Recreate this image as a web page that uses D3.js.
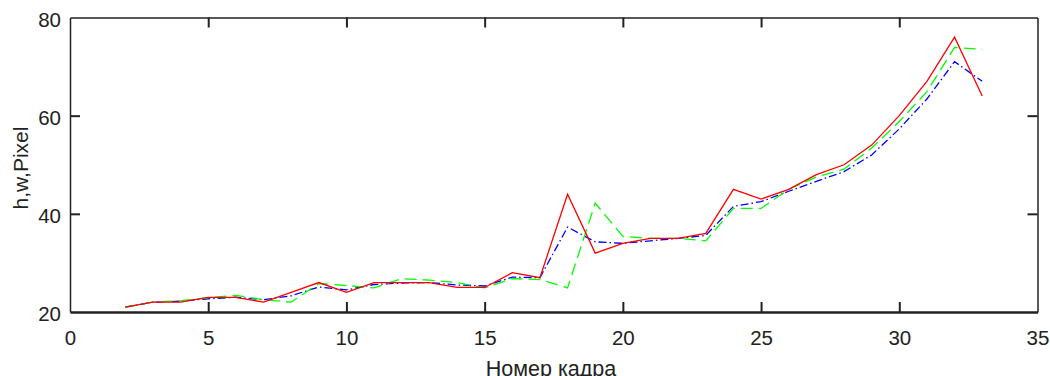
<!DOCTYPE html>
<html>
<head>
<meta charset="utf-8">
<script src="https://cdn.jsdelivr.net/npm/d3@7"></script>
<style>
  body { margin: 0; background: #fff; }
  svg { display: block; font-family: "Liberation Sans", Arial, sans-serif; }
</style>
</head>
<body>
<svg id="chart" width="1050" height="376"></svg>
<script>
// frame numbers and measured sizes
var frames = d3.range(2, 34);
var redVals = [21, 22, 22, 23, 23, 22, 24, 26, 24, 26, 26, 26, 25, 25, 28, 27,
    44, 32, 34, 35, 35, 36, 45, 43, 45, 48, 50, 54, 60, 67, 76, 64];
var greenVals = [21, 22, 22.3, 22.9, 23.4, 22.5, 22, 25.8, 25.4, 24.9, 26.8, 26.5, 26, 24.9, 26.8, 26.6,
    24.9, 42.2, 35.4, 35, 35, 34.5, 41.1, 41.1, 45, 47.5, 49.1, 53.4, 58.8, 64.9, 73.9, 73.5];
var blueVals = [21, 22, 22.2, 22.7, 23, 22.5, 23.3, 25.1, 24.5, 25.6, 25.9, 26, 25.5, 25.3, 27.1, 27,
    37.3, 34.3, 34, 34.5, 35, 35.6, 41.5, 42.5, 44.6, 46.6, 48.6, 52, 57.3, 63.4, 71, 67];
var xTicks = [0, 5, 10, 15, 20, 25, 30, 35];
var yTicks = [20, 40, 60, 80];

var margin = {top: 17.5, right: 12.5, bottom: 64, left: 70};
var width = 1050 - margin.left - margin.right;
var height = 376 - margin.top - margin.bottom;

var svg = d3.select("#chart");
var g = svg.append("g")
    .attr("transform", "translate(" + margin.left + "," + margin.top + ")");

var x = d3.scaleLinear().domain([0, 35]).range([0, width]);
var y = d3.scaleLinear().domain([20, 80]).range([height, 0]);

// axes, ticks pointing inward like the original box
var tl = 10;
g.append("g").attr("class", "xb")
    .attr("transform", "translate(0," + height + ")")
    .call(d3.axisBottom(x).tickValues(xTicks).tickSizeInner(-tl).tickSizeOuter(0).tickPadding(18));
g.append("g").attr("class", "xt")
    .call(d3.axisTop(x).tickValues(xTicks).tickSizeInner(-tl).tickSizeOuter(0).tickFormat(""));
g.append("g").attr("class", "yl")
    .call(d3.axisLeft(y).tickValues(yTicks).tickSizeInner(-tl).tickSizeOuter(0).tickPadding(9));
g.append("g").attr("class", "yr")
    .attr("transform", "translate(" + width + ",0)")
    .call(d3.axisRight(y).tickValues(yTicks).tickSizeInner(-tl).tickSizeOuter(0).tickFormat(""));

g.selectAll(".domain").attr("stroke", "#222").attr("stroke-width", 1.5);
g.select(".xb .domain").attr("stroke-width", 2.5);
g.selectAll(".tick line").attr("stroke", "#222").attr("stroke-width", 2);
g.selectAll(".tick text")
    .attr("fill", "#222")
    .style("font-size", "20.5px");
g.selectAll(".yl .tick text").attr("dy", "0.42em");

// drop tick marks sitting on the frame corners
g.selectAll(".xb .tick, .xt .tick").filter(function(d) { return d === 0 || d === 35; })
    .select("line").remove();
g.selectAll(".yl .tick, .yr .tick").filter(function(d) { return d === 20 || d === 80; })
    .select("line").remove();

var line = d3.line()
    .x(function(d) { return x(d[0]); })
    .y(function(d) { return y(d[1]); });

function series(vals, color, dash) {
    g.append("path")
        .datum(frames.map(function(f, i) { return [f, vals[i]]; }))
        .attr("fill", "none")
        .attr("stroke", color)
        .attr("stroke-width", 1.3)
        .attr("stroke-dasharray", dash)
        .attr("d", line);
}
series(blueVals, "#0000ff", "8,3,1.5,3");
series(greenVals, "#00ff00", "12,6");
series(redVals, "#ff0000", null);

// axis titles
svg.append("text")
    .attr("x", 551)
    .attr("y", 376)
    .attr("text-anchor", "middle")
    .attr("fill", "#222")
    .style("font-size", "21.5px")
    .text("Номер кадра");

svg.append("text")
    .attr("transform", "translate(28,168) rotate(-90)")
    .attr("text-anchor", "middle")
    .attr("fill", "#222")
    .style("font-size", "21px")
    .text("h,w,Pixel");
</script>
</body>
</html>
